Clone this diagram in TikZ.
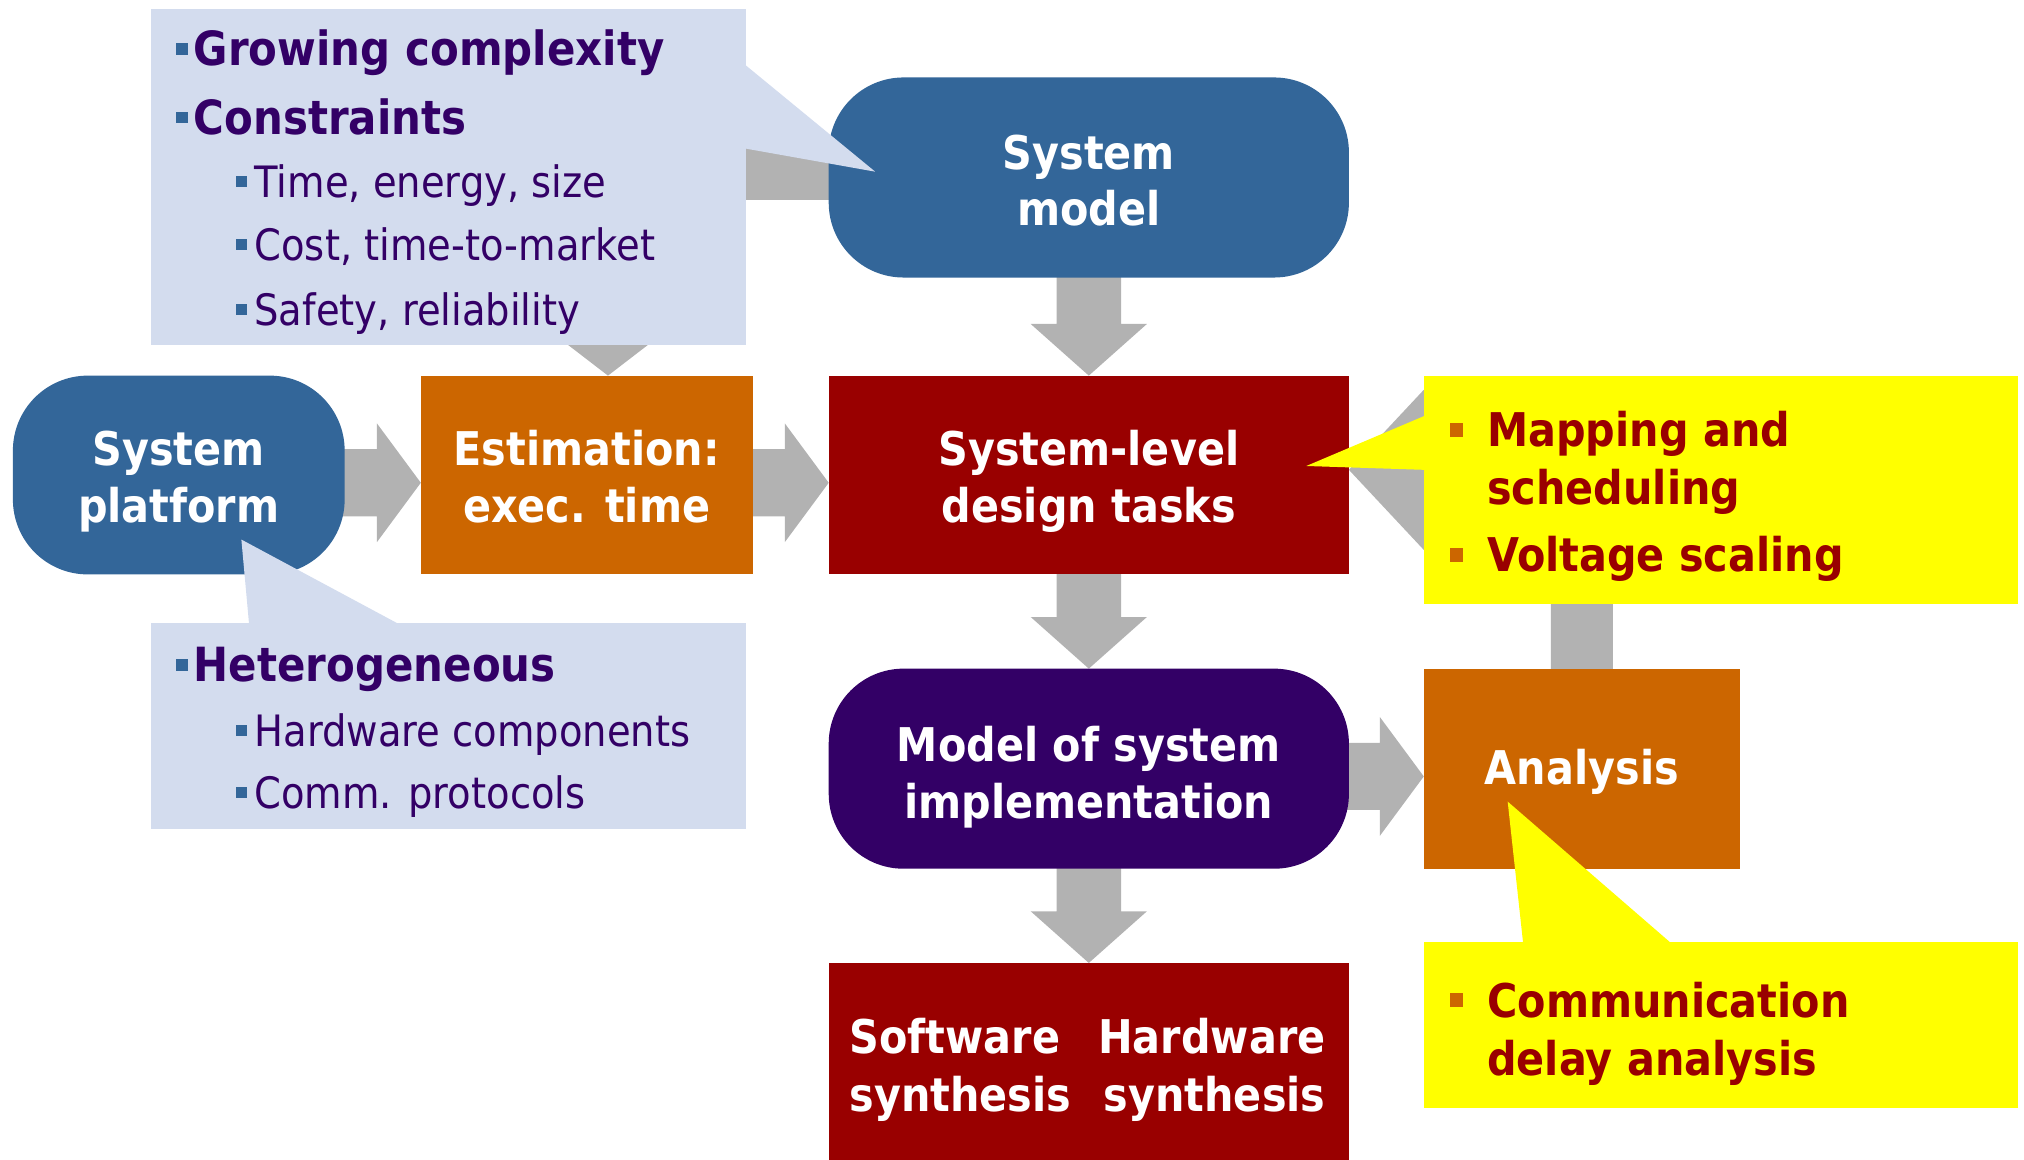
\documentclass[tikz,border=0pt]{standalone}
\usepackage{fontspec}
\setmainfont{DejaVu Sans}[FakeStretch=0.89]
\usetikzlibrary{calc}

\definecolor{steel}{HTML}{336699}
\definecolor{plum}{HTML}{330066}
\definecolor{maroon}{HTML}{990000}
\definecolor{rust}{HTML}{CC6600}
\definecolor{mist}{HTML}{D3DCEE}
\definecolor{lemon}{HTML}{FFFF00}
\definecolor{flowgrey}{HTML}{B2B2B2}

\pgfdeclarelayer{back}
\pgfsetlayers{back,main}

% thick grey arrow going down from the bottom of #1 to the top of #2
\newcommand\flowdown[2]{%
  \fill[flow] ($(#1.south)+(-25,-12)$) -- ($(#1.south)+(25,-12)$)
    -- ($(#2.north)+(25,-40)$) -- ($(#2.north)+(45,-40)$) -- (#2.north)
    -- ($(#2.north)+(-45,-40)$) -- ($(#2.north)+(-25,-40)$) -- cycle;}
% thick grey arrow going right from #1 to #2
\newcommand\flowright[2]{%
  \fill[flow] ($(#1.east)+(-12,-20)$) -- ($(#2.west)+(-34,-20)$)
    -- ($(#2.west)+(-34,-40)$) -- ($(#2.west)+(0,6)$) -- ($(#2.west)+(-34,52)$)
    -- ($(#2.west)+(-34,32)$) -- ($(#1.east)+(-12,32)$) -- cycle;}

\begin{document}
\begin{tikzpicture}[x=1pt,y=-1pt,
  block/.style={inner sep=0pt, outer sep=0pt},
  roundblock/.style={block, rounded corners=58pt},
  note/.style={fill=mist, inner sep=0pt, outer sep=0pt},
  hint/.style={fill=lemon, inner sep=0pt, outer sep=0pt},
  flow/.style={fill=flowgrey},
  headA/.style={anchor=base west, inner sep=0pt, text=plum,
    font=\bfseries\fontsize{36.5}{44}\selectfont},
  itemB/.style={anchor=base west, inner sep=0pt, text=plum,
    font=\fontsize{33.5}{40}\selectfont},
  hinttxt/.style={anchor=base west, inner sep=0pt, text=maroon,
    font=\bfseries\fontsize{36}{44}\selectfont},
  wordtxt/.style={anchor=base, inner sep=0pt, text=white,
    font=\bfseries\fontsize{36}{44}\selectfont}]

\useasboundingbox (0,0) rectangle (1568,898.6);

% ---- main flow blocks
\node[roundblock, fill=steel, minimum width=403, minimum height=155]
  (sysmodel) at (843.5,137.5) {};
\node[roundblock, fill=steel, minimum width=257, minimum height=154]
  (platform) at (138.5,368) {};
\node[block, fill=rust, minimum width=257, minimum height=154]
  (estim) at (454.5,368) {};
\node[block, fill=maroon, minimum width=403, minimum height=154]
  (sld) at (843.5,368) {};
\node[roundblock, fill=plum, minimum width=403, minimum height=155]
  (impl) at (843.5,595.5) {};
\node[block, fill=rust, minimum width=245, minimum height=155]
  (analysis) at (1225.5,595.5) {};
\node[block, fill=maroon, minimum width=403, minimum height=153]
  (synth) at (843.5,822.5) {};

% ---- block labels
\node[wordtxt] (sm1) at (843.5,131) {System};
\node[wordtxt] (sm2) at (843.5,175) {model};
\node[wordtxt] (pf1) at (138.5,361) {System};
\node[wordtxt] (pf2) at (138.5,405) {platform};
\node[wordtxt] (es1) at (454.5,361) {Estimation:};
\node[wordtxt] (es2) at (454.5,405) {exec. time};
\node[wordtxt] (sl1) at (843.5,361) {System-level};
\node[wordtxt] (sl2) at (843.5,405) {design tasks};
\node[wordtxt] (im1) at (843.5,590) {Model of system};
\node[wordtxt] (im2) at (843.5,634) {implementation};
\node[wordtxt] (an1) at (1225.5,608) {Analysis};
\node[wordtxt, anchor=base west] (sw1) at (658,816) {Software};
\node[wordtxt, anchor=base west] (sw2) at (658,861) {synthesis};
\node[wordtxt, anchor=base east] (hw1) at (1027,816) {Hardware};
\node[wordtxt, anchor=base east] (hw2) at (1027,861) {synthesis};

% ---- note boxes
\node[note, minimum width=461, minimum height=260] (note1) at (347.5,137) {};
\node[note, minimum width=461, minimum height=159] (note2) at (347.5,562.5) {};
\node[hint, minimum width=460, minimum height=177] (hint1) at (1333,379.5) {};
\node[hint, minimum width=460, minimum height=128] (hint2) at (1333,794) {};

% ---- callout pointers
\coordinate (tip1) at (678,133);
\coordinate (tip2) at (187,418);
\coordinate (tip3) at (1012,361);
\coordinate (tip4) at (1168,621);
\fill[mist] ($(note1.north east)+(-1,43)$) -- (tip1) -- ($(note1.north east)+(-1,108)$) -- cycle;
\fill[mist] ($(note2.north west)+(76,1)$) -- (tip2) -- ($(note2.north west)+(193,1)$) -- cycle;
\fill[lemon] ($(hint1.north west)+(1,31)$) -- (tip3) -- ($(hint1.north west)+(1,73)$) -- cycle;
\fill[lemon] ($(hint2.north west)+(77,1)$) -- (tip4) -- ($(hint2.north west)+(192,1)$) -- cycle;

% ---- grey flow arrows behind the blocks
\begin{pgfonlayer}{back}
  \flowdown{sysmodel}{sld}
  \flowdown{sld}{impl}
  \flowdown{impl}{synth}
  \flowright{platform}{estim}
  \flowright{estim}{sld}
  \flowright{impl}{analysis}
  % constraints feed the system model
  \fill[flow] ($(note1.east)+(-10,-25)$) rectangle ($(sysmodel.west)+(10,17.5)$);
  % constraints feed the estimation
  \coordinate (esttip) at ($(estim.north)+(16.5,0)$);
  \fill[flow] ($(esttip)+(-25,-80)$) -- ($(esttip)+(25,-80)$) -- ($(esttip)+(25,-40)$)
    -- ($(esttip)+(52,-40)$) -- (esttip) -- ($(esttip)+(-52,-40)$)
    -- ($(esttip)+(-25,-40)$) -- cycle;
  % analysis results back to the design tasks
  \coordinate (elbowtip) at ($(sld.east)+(0,-4)$);
  \fill[flow] ($(analysis.north)+(-24,10)$) -- ($(analysis.north)+(24,10)$)
    -- ($(elbowtip -| analysis.north)+(24,-25)$) -- ($(elbowtip)+(58,-25)$)
    -- ($(elbowtip)+(58,-62)$) -- (elbowtip) -- ($(elbowtip)+(58,62)$)
    -- ($(elbowtip)+(58,25)$) -- ($(elbowtip -| analysis.north)+(-24,25)$) -- cycle;
\end{pgfonlayer}

% ---- note texts
\fill[steel] (136.5,33.5) rectangle ++(9,9);
\node[headA] (n1a) at (150,51) {Growing complexity};
\fill[steel] (136.5,86.5) rectangle ++(9,9);
\node[headA] (n1b) at (150,104) {Constraints};
\fill[steel] (183,136.5) rectangle ++(8.5,8.5);
\node[itemB] (n1c) at (197,153) {Time, energy, size};
\fill[steel] (183,185.5) rectangle ++(8.5,8.5);
\node[itemB] (n1d) at (197,202) {Cost, time-to-market};
\fill[steel] (183,235.5) rectangle ++(8.5,8.5);
\node[itemB] (n1e) at (197,252) {Safety, reliability};

\fill[steel] (136.5,510.5) rectangle ++(9,9);
\node[headA] (n2a) at (150,528) {Heterogeneous};
\fill[steel] (183,561.5) rectangle ++(8.5,8.5);
\node[itemB] (n2b) at (197,578) {Hardware components};
\fill[steel] (183,609.5) rectangle ++(8.5,8.5);
\node[itemB] (n2c) at (197,626) {Comm. protocols};

% ---- hint texts
\fill[rust] (1123,327.5) rectangle ++(10,11);
\node[hinttxt] (h1a) at (1152,346) {Mapping and};
\node[hinttxt] (h1b) at (1152,391) {scheduling};
\fill[rust] (1123,424.5) rectangle ++(10,11);
\node[hinttxt] (h1c) at (1152,443) {Voltage scaling};
\fill[rust] (1123,769.5) rectangle ++(10,11);
\node[hinttxt] (h2a) at (1152,788) {Communication};
\node[hinttxt] (h2b) at (1152,833) {delay analysis};
\end{tikzpicture}
\end{document}
